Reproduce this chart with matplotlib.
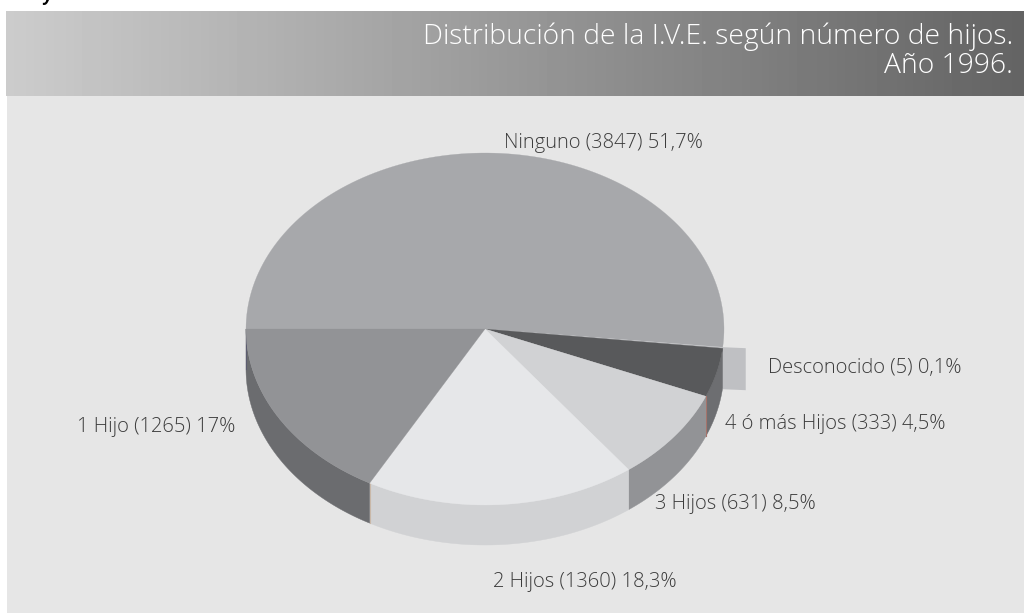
import numpy as np
import matplotlib
matplotlib.use("Agg")
import matplotlib.pyplot as plt
from matplotlib.patches import Rectangle

TITLE = ["Distribución de la I.V.E. según número de hijos.", "Año 1996."]
categories = ["Ninguno", "Desconocido", "4 ó más Hijos", "3 Hijos", "2 Hijos", "1 Hijo"]
counts = [3847, 5, 333, 631, 1360, 1265]
percents = [51.7, 0.1, 4.5, 8.5, 18.3, 17.0]
pct_labels = ["51,7%", "0,1%", "4,5%", "8,5%", "18,3%", "17%"]
top_colors = ["#a7a8ab", "#bfc0c3", "#58595b", "#d1d2d4", "#e6e7e9", "#929396"]
side_colors = ["#a7a8ab", "#bfc0c3", "#6d6e71", "#929396", "#d1d2d4", "#6b6c6f"]

W, H = 1024, 614
CX, CY, RX, RY, DEPTH = 485, 329, 239, 176, 40
plt.rcParams["font.family"] = ["Open Sans", "Lato", "DejaVu Sans"]

fig = plt.figure(figsize=(W / 100, H / 100), dpi=100, facecolor="white")
ax = fig.add_axes([0, 0, 1, 1])
ax.set_xlim(0, W)
ax.set_ylim(H, 0)
ax.axis("off")

# backgrounds
ax.add_patch(Rectangle((7, 96), W - 7, H - 96 - 1, fc="#e6e6e6", ec="none", zorder=0))
grad = np.linspace(0.80, 0.39, 256).reshape(1, -1)
ax.imshow(grad, extent=(6, W, 96, 11), cmap="gray", vmin=0, vmax=1, aspect="auto", zorder=1)
ax.set_xlim(0, W)
ax.set_ylim(H, 0)
ax.text(1013, 37, TITLE[0], color="white", fontsize=20.3, fontweight="light", ha="right", va="center", zorder=5)
ax.text(1013, 66, TITLE[1], color="white", fontsize=20.3, fontweight="light", ha="right", va="center", zorder=5)
ax.text(47, -4, "y", color="black", fontsize=12, style="italic", fontweight="bold", ha="center", va="center", zorder=5)

# angle boundaries, clockwise from the left edge
fracs = np.array(percents) / sum(percents)
edges = 180 - np.concatenate([[0], np.cumsum(fracs)]) * 360


def arc(t0, t1, n=120):
    t = np.radians(np.linspace(t0, t1, n))
    return CX + RX * np.cos(t), CY - RY * np.sin(t)


# Desconocido: small flag standing out of the rim
flag = edges[1]
fx, fy = arc(flag, flag, 1)
ax.fill([fx[0], fx[0] + 23, fx[0] + 23, fx[0]], [fy[0], fy[0] + 1, fy[0] + 43, fy[0] + 42],
        color=top_colors[1], zorder=2, lw=0)

# sides
for i, cat in enumerate(categories):
    if i == 0:
        continue
    lo, hi = sorted((edges[i], edges[i + 1]))
    hi = min(hi, 0)
    lo = max(lo, -180)
    if hi <= lo:
        continue
    x, y = arc(lo, hi)
    ax.fill(np.r_[x, x[::-1]], np.r_[y, y[::-1] + DEPTH], color=side_colors[i], lw=0.3, ec=side_colors[i], zorder=3)
# seam lines on the rim
for ang, col in [(edges[5], "#c9b8a8"), (edges[3], "#a5736b")]:
    x, y = arc(ang, ang, 1)
    ax.plot([x[0], x[0]], [y[0], y[0] + DEPTH], color=col, lw=0.8, zorder=3.5)
x, y = arc(-180, -180, 1)
ax.plot([x[0], x[0]], [y[0], y[0] + DEPTH], color="#5c5c70", lw=0.8, zorder=3.5)

# top faces
for i, cat in enumerate(categories):
    x, y = arc(edges[i], edges[i + 1])
    ax.fill(np.r_[CX, x], np.r_[CY, y], color=top_colors[i], lw=0.2, ec=top_colors[i], zorder=4)

labels = [f"{c} ({n}) {p}" for c, n, p in zip(categories, counts, pct_labels)]
pos = [(603, 143), (864.5, 368), (835.5, 424), (735, 504), (585, 582), (156, 427)]
for s, (x, y) in zip(labels, pos):
    ax.text(x, y, s, color="#3c3c3c", fontsize=14.5, fontweight="light", ha="center", va="center", zorder=6)

fig.savefig("out.png", dpi=100, facecolor="white")
